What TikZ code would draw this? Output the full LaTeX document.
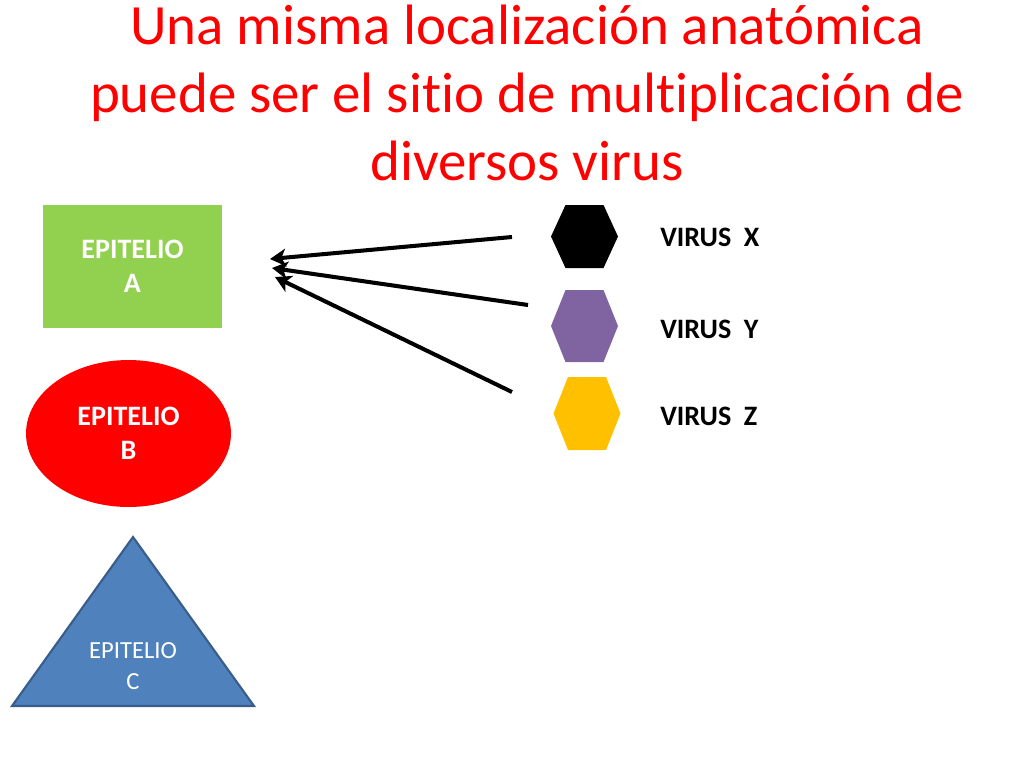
\documentclass[tikz,border=0pt]{standalone}
\usepackage{fontspec}
\setmainfont{Carlito}[Ligatures=NoCommon]
\usetikzlibrary{arrows.meta,shapes.geometric}
\definecolor{epigreen}{HTML}{92D050}
\definecolor{epired}{HTML}{FF0000}
\definecolor{epiblue}{HTML}{4F81BD}
\definecolor{epibluedark}{HTML}{385D8A}
\definecolor{virpurple}{HTML}{8064A2}
\definecolor{viryellow}{HTML}{FFC000}
\def\hexagon[#1](#2,#3)(#4){\fill[#1] ({#2-33.5},#3) -- ({#2-19},{#3-#4}) -- ({#2+19},{#3-#4}) -- ({#2+33.5},#3) -- ({#2+19},{#3+#4}) -- ({#2-19},{#3+#4}) -- cycle;}

\begin{document}
\begin{tikzpicture}[x=0.02cm,y=-0.02cm,
	titulo/.style={font=\fontsize{32.4}{38.6}\selectfont, text=epired, align=center},
	epitexto/.style={font=\bfseries\fontsize{16}{19.5}\selectfont, text=white, align=center},
	epitextofino/.style={font=\fontsize{14}{17.6}\selectfont, text=white, align=center},
	virus/.style={font=\bfseries\fontsize{16}{19}\selectfont, anchor=base west, inner sep=0pt},
	flecha/.style={line width=2.3pt, -{Stealth[length=9pt,width=10pt,inset=2.5pt]}}]
		\useasboundingbox (0,0) rectangle (1024,768);
		%%%%% TITULO %%%%%
		\node[titulo, anchor=base] (tit) at (527,180) {Una misma localización anatómica\\puede ser el sitio de multiplicación de\\diversos virus};
		
		%%%%% EPITELIOS %%%%%
		\node[fill=epigreen, minimum width=3.58cm, minimum height=2.46cm, epitexto] (epiA) at (132.5,266.5) {EPITELIO\\A};
		\node[ellipse, fill=epired, minimum width=4.1cm, minimum height=2.94cm, epitexto] (epiB) at (128.5,433.5) {EPITELIO\\B};
		
		\coordinate (apice) at (133,537);
		\coordinate (baseL) at (12,706);
		\coordinate (baseR) at (254,706);
		\draw[fill=epiblue, draw=epibluedark, line width=1.2pt] (apice) -- (baseR) -- (baseL) -- cycle;
		\node[epitextofino] (epiC) at (133,666) {EPITELIO\\C};
		
		%%%%% VIRUS %%%%%
		\hexagon[black](584.5,236.5)(31.5)
		\hexagon[virpurple](584.5,326)(36)
		\hexagon[viryellow](587,413.5)(36.5)
		
		\node[virus] (vX) at (660,246) {VIRUS\ \ X};
		\node[virus] (vY) at (660,338) {VIRUS\ \ Y};
		\node[virus] (vZ) at (660,425) {VIRUS\ \ Z};
		
		%%%%% FLECHAS %%%%%
		\coordinate (desdeX) at (512,237);
		\coordinate (desdeY) at (528,305);
		\coordinate (desdeZ) at (512,392);
		\coordinate (hastaX) at (270,259);
		\coordinate (hastaY) at (272,268);
		\coordinate (hastaZ) at (275,277);
		\draw[flecha] (desdeX) -- (hastaX);
		\draw[flecha] (desdeY) -- (hastaY);
		\draw[flecha] (desdeZ) -- (hastaZ);
	\end{tikzpicture}
\end{document}
